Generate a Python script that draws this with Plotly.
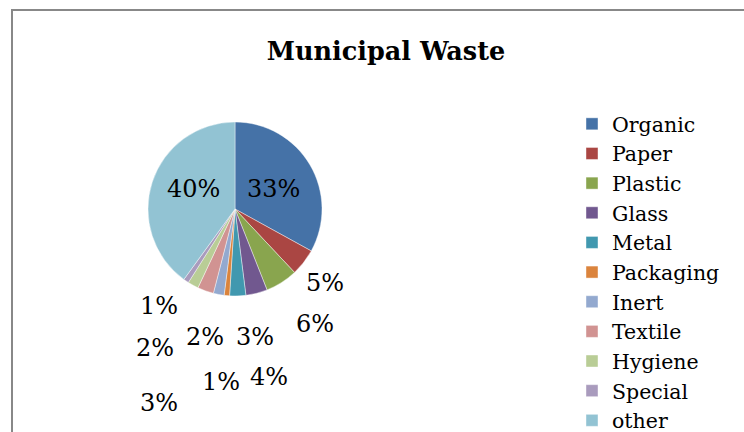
import plotly.graph_objects as go

categories = ["Organic", "Paper", "Plastic", "Glass", "Metal", "Packaging",
              "Inert", "Textile", "Hygiene", "Special", "other"]
values = [33, 5, 6, 4, 3, 1, 2, 3, 2, 1, 40]
colors = ["#4572A7", "#AA4643", "#89A54E", "#71588F", "#4198AF", "#DB843D",
          "#93A9CF", "#D19392", "#B9CD96", "#A99BBD", "#92C3D3"]

# label placement (pixel positions of the data labels, as in the original layout)
label_px = [(273, 189), (325, 283), (315, 324), (269, 377), (255, 337), (221, 382),
            (205, 337), (159, 403), (155, 348), (159, 306), (193, 189)]

W, H = 744, 432
cx, cy, r = 235, 209, 87

fig = go.Figure(go.Pie(
    labels=categories, values=values, sort=False, direction="clockwise", rotation=0,
    marker=dict(colors=colors, line=dict(color="rgba(255,255,255,0.6)", width=0.7)),
    textinfo="none", hoverinfo="label+percent",
    domain=dict(x=[(cx - r) / W, (cx + r) / W], y=[(H - cy - r) / H, (H - cy + r) / H]),
))

serif = "DejaVu Serif"
annotations = []
for v, (px, py) in zip(values, label_px):
    annotations.append(dict(
        text=f"{v}%", x=px / W, y=1 - py / H, xref="paper", yref="paper",
        showarrow=False, xanchor="center", yanchor="middle",
        font=dict(family=serif, size=24, color="black")))

fig.update_layout(
    width=W, height=H, margin=dict(l=0, r=0, t=0, b=0, autoexpand=False),
    paper_bgcolor="white", plot_bgcolor="white",
    title=dict(text="<b>Municipal Waste</b>", x=386 / W, y=1 - 51 / H,
               xanchor="center", yanchor="middle",
               font=dict(family=serif, size=25.5, color="black")),
    legend=dict(x=572 / W, y=1 - 104 / H, xanchor="left", yanchor="top",
                font=dict(family=serif, size=20.5, color="black"),
                itemclick=False, tracegroupgap=0, bgcolor="rgba(0,0,0,0)"),
    annotations=annotations,
    shapes=[dict(type="rect", xref="paper", yref="paper",
                 x0=12 / W, x1=1.1, y0=-0.1, y1=1 - 10 / H,
                 line=dict(color="#888888", width=2))],
)

fig.write_html("out.html", config={"displayModeBar": False},
               post_script="document.body.style.margin='0';")
